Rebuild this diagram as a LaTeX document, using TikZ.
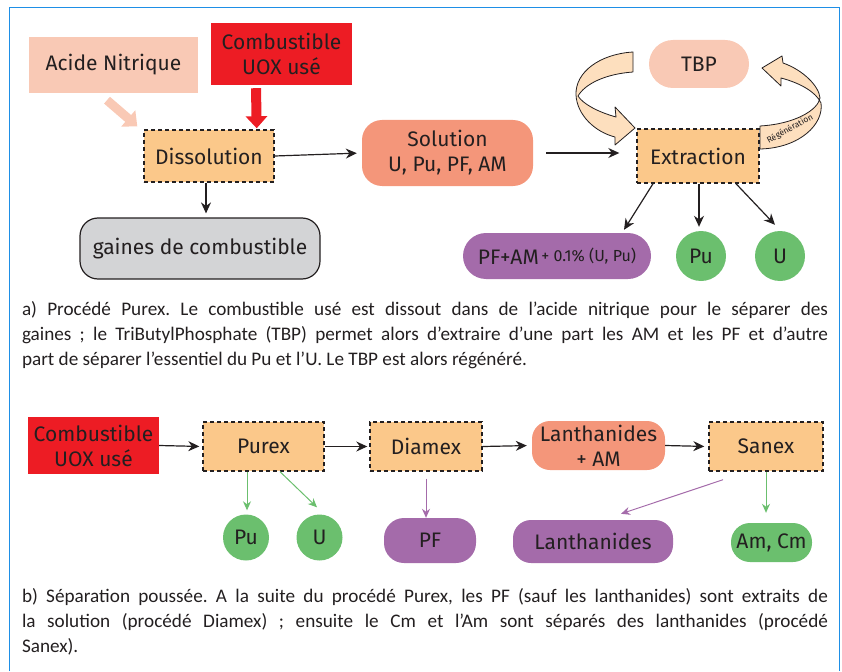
\documentclass[tikz,border=0pt]{standalone}
\usepackage{fontspec}
\setmainfont{Fira Sans}
\newfontfamily\legende{Carlito}
\usetikzlibrary{arrows.meta}
\frenchspacing
\definecolor{cadre}{HTML}{1E8FE6}
\definecolor{saumonclair}{HTML}{F9C9B5}
\definecolor{rouge}{HTML}{ED1C24}
\definecolor{orangeclair}{HTML}{FBC88A}
\definecolor{saumon}{HTML}{F4967A}
\definecolor{gris}{HTML}{D3D4D6}
\definecolor{mauve}{HTML}{A46BAA}
\definecolor{vert}{HTML}{6BBF6E}
\definecolor{peche}{HTML}{FDDFBE}
\definecolor{encre}{HTML}{231F20}
\begin{document}
\begin{tikzpicture}[x=1pt,y=-1pt,
every node/.style={text=encre,inner sep=0pt,align=center,font=\fontsize{21}{25}\selectfont},
etape/.style={draw=encre,fill=orangeclair,line width=1.4pt,dash pattern=on 4pt off 3pt},
boite/.style={fill=#1,rounded corners=20pt},
pastille/.style={circle,fill=vert,minimum size=#1},
fleche/.style={draw=encre,line width=1.2pt,-{Stealth[length=11pt,width=10pt]}},
filet/.style={draw=#1,line width=1pt,-{Stealth[length=9pt,width=8pt]}},
grosse/.style={draw=#1,line width=9pt,-{Triangle[width=21pt,length=12pt]}},
ruban/.style={fill=peche,draw=encre,line width=0.8pt,line join=round},
legendebox/.style={text width=806pt,align=justify,font=\legende\fontsize{19.2}{25}\selectfont}]
\useasboundingbox (0,0) rectangle (842,671);
\draw[cadre,line width=1.3pt] (9.5,671) -- (9.5,7.5) -- (839.5,7.5) -- (839.5,671);
% a) Purex
\node[fill=saumonclair,minimum width=169pt,minimum height=56pt] (acide) at (113.5,65) {Acide Nitrique};
\node[fill=rouge,minimum width=141pt,minimum height=62pt] (uox) at (281.5,54) {Combustible\\UOX usé};
\node[etape,minimum width=130pt,minimum height=52pt] (dissol) at (209,156) {Dissolution};
\node[boite=saumon,minimum width=171pt,minimum height=66pt] (sol) at (447.5,153) {Solution\\U, Pu, PF, AM};
\node[etape,minimum width=122pt,minimum height=54pt] (extr) at (698,156) {Extraction};
\node[boite=saumonclair,rounded corners=24pt,minimum width=100pt,minimum height=48pt] (tbp) at (699,64) {TBP};
\node[boite=gris,draw=encre,line width=1.2pt,rounded corners=18pt,minimum width=240pt,minimum height=61pt] (gaines) at (200,248.5) {gaines de combustible};
\node[boite=mauve,rounded corners=23pt,minimum width=188pt,minimum height=46pt] (pfam) at (557,256) {PF+AM\raisebox{3pt}{\fontsize{16}{18}\selectfont\,+ 0.1\% (U, Pu)}};
\node[pastille=50pt] (pu) at (701,256) {Pu};
\node[pastille=50pt] (u) at (780,256) {U};
\path[grosse=saumonclair] ([xshift=-6.5pt,yshift=-7pt]acide.south) -- ([xshift=-6pt,yshift=3pt]dissol.north west);
\path[grosse=rouge,line width=10pt] ([xshift=-25.5pt,yshift=-3pt]uox.south) -- ([xshift=-18pt,yshift=1pt]dissol.north east);
\path[fleche,shorten >=5pt] (dissol.east) -- (sol.west);
\path[fleche,shorten <=13pt,shorten >=17pt] (sol.east) -- (sol.east -| extr.west);
\path[fleche,shorten >=4pt] ([xshift=-3pt]dissol.south) -- ([xshift=-3pt]dissol.south |- gaines.north);
\path[fleche] ([xshift=-45pt]extr.south) -- ([xshift=67pt,yshift=3pt]pfam.north);
\path[fleche] ([xshift=1pt]extr.south) -- ([xshift=-2pt,yshift=4pt]pu.north);
\path[fleche] ([xshift=38pt]extr.south) -- ([xshift=-5pt,yshift=6pt]u.north);
% rubans du TBP
\path[ruban] (633,52) .. controls (600,54) and (575,72) .. (576,95)
  .. controls (577,115) and (595,132) .. (615,137) -- (615,145) -- (635,128) -- (615,107) -- (616,117)
  .. controls (598,112) and (583,104) .. (578,96)
  .. controls (585,84) and (605,74) .. (633,72) -- cycle;
\path[ruban] (760,126) .. controls (795,124) and (818,110) .. (820,98)
  .. controls (819,86) and (803,70) .. (783,63) -- (782,56) -- (762,68) -- (781,86) -- (781,78)
  .. controls (800,83) and (816,92) .. (821,103)
  .. controls (824,124) and (800,148) .. (760,149) -- cycle;
\node[rotate=29,font=\fontsize{8.5}{9}\selectfont] (regen) at (790,129) {Régénération};
\node[legendebox] (capa) at (425,335)
{a) Procédé Purex. Le combustible usé est dissout dans de l’acide nitrique pour le séparer des\linebreak
gaines ; le TriButylPhosphate (TBP) permet alors d’extraire d’une part les AM et les PF et d’autre\linebreak
part de séparer l’essentiel du Pu et l’U. Le TBP est alors régénéré.};
% b) separation poussee
\node[fill=rouge,minimum width=131pt,minimum height=57pt] (uox2) at (93.5,445.5) {Combustible\\UOX usé};
\node[etape,minimum width=121pt,minimum height=49pt] (purex) at (263.5,446.5) {Purex};
\node[etape,minimum width=112pt,minimum height=49pt] (diamex) at (426,446.5) {Diamex};
\node[boite=saumon,rounded corners=18pt,minimum width=133pt,minimum height=49pt] (lanth) at (598.5,445.5) {Lanthanides\\+ AM};
\node[etape,minimum width=114pt,minimum height=49pt] (sanex) at (766,446.5) {Sanex};
\node[pastille=46pt] (pu2) at (246,537.5) {Pu};
\node[pastille=46pt] (u2) at (319.5,537.5) {U};
\node[boite=mauve,minimum width=92pt,minimum height=45pt] (pf) at (430,540.5) {PF};
\node[boite=mauve,rounded corners=18pt,minimum width=160pt,minimum height=43pt] (lanth2) at (593,541.5) {Lanthanides};
\node[boite=vert,rounded corners=19pt,minimum width=81pt,minimum height=39pt] (amcm) at (771.5,542.5) {Am, Cm};
\path[fleche,shorten >=3pt] (uox2.east) -- (purex.west);
\path[fleche,shorten >=2pt] (purex.east) -- (diamex.west);
\path[fleche,shorten >=5pt] (diamex.east) -- (lanth.west);
\path[fleche,shorten >=4pt] (lanth.east) -- (sanex.west);
\path[filet=vert,shorten >=4pt] ([xshift=-16.5pt]purex.south) -- ([xshift=1pt]pu2.north);
\path[filet=vert] ([xshift=16.5pt]purex.south) -- ([xshift=-2.5pt,yshift=7pt]u2.north);
\path[filet=mauve,shorten <=7pt] (diamex.south) -- ([xshift=-4pt]pf.north);
\path[filet=mauve] ([xshift=-43pt,yshift=-8pt]sanex.south) -- ([xshift=28pt,yshift=6pt]lanth2.north);
\path[filet=vert,shorten >=10pt] (sanex.south) -- ([xshift=-5.5pt]amcm.north);
\node[legendebox] (capb) at (425,622)
{b) Séparation poussée. A la suite du procédé Purex, les PF (sauf les lanthanides) sont extraits de\linebreak
la solution (procédé Diamex) ; ensuite le Cm et l’Am sont séparés des lanthanides (procédé\linebreak
Sanex).};
\end{tikzpicture}
\end{document}
